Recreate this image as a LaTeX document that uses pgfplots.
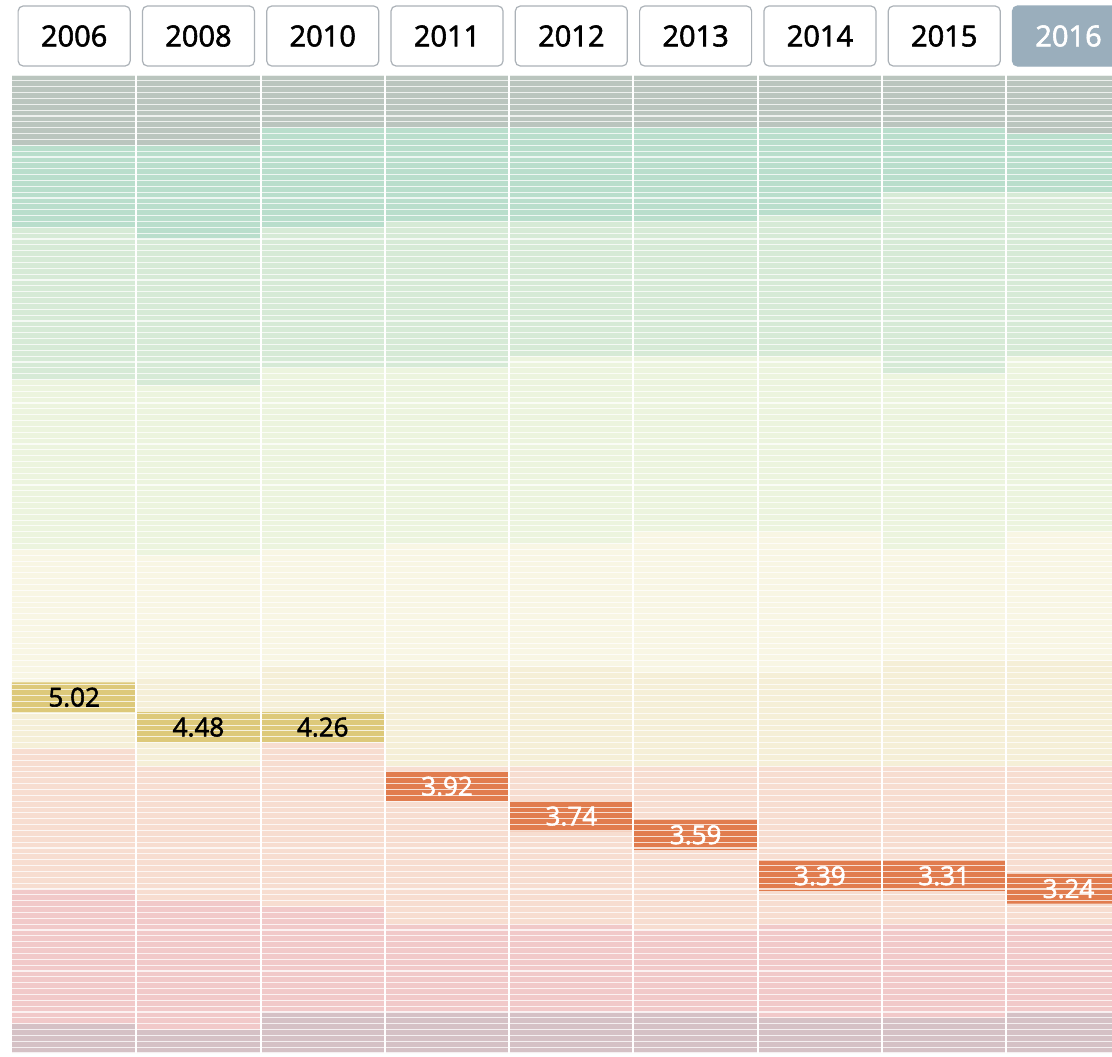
\documentclass[border=0pt]{standalone}
\usepackage{fontspec}
\setmainfont{Open Sans}
\newfontfamily\semi{Open Sans}[FakeBold=2]
\usepackage{pgfplots}
\pgfplotsset{compat=1.18}

\definecolor{bGrey}{RGB}{186,197,190}
\definecolor{bDark}{RGB}{185,222,204}
\definecolor{bLight}{RGB}{214,234,214}
\definecolor{bPale}{RGB}{236,244,222}
\definecolor{bCream}{RGB}{248,246,228}
\definecolor{bBeige}{RGB}{245,239,215}
\definecolor{bPeach}{RGB}{247,221,208}
\definecolor{bPink}{RGB}{241,201,201}
\definecolor{bMauve}{RGB}{213,193,197}
\definecolor{hYellow}{RGB}{221,201,122}
\definecolor{hOrange}{RGB}{225,124,78}
\definecolor{btnEdge}{RGB}{172,178,184}
\definecolor{btnSel}{RGB}{154,174,188}

\pgfplotsset{
  stripes/.style={
    scale only axis, width=550pt, height=489pt,
    at={(6pt,1.5pt)}, anchor=south west,
    xmin=-0.5, xmax=8.35, ymin=0, ymax=167, y dir=reverse,
    axis line style={draw=none}, tick style={draw=none},
    xtick=\empty, ytick=\empty,
    xticklabel={\relax}, yticklabel={\relax},
  },
}
\tikzset{
  band/.style={fill=#1, draw=none},
  btn/.style={draw=btnEdge, fill=white, line width=0.6pt, rounded corners=2.5pt,
    minimum width=56pt, minimum height=30pt, inner sep=0pt, yshift=19.5pt,
    font=\semi\fontsize{14.5}{16}\selectfont},
  val/.style={font=\semi\fontsize{13}{15}\selectfont, inner sep=0pt},
}

\begin{document}
\begin{tikzpicture}
\fill[white] (0,0) rectangle (556pt,528pt);
\path[use as bounding box] (0,0) rectangle (556pt,528pt);

% bands: number of rows (countries) per band in each year
\begin{axis}[stripes, ybar stacked, bar width=1]
  \addplot[band=bGrey]  coordinates {(0,12) (1,12) (2,9)  (3,9)  (4,9)  (5,9)  (6,9)  (7,9)  (8,10)};
  \addplot[band=bDark]  coordinates {(0,14) (1,16) (2,17) (3,16) (4,16) (5,16) (6,15) (7,11) (8,10)};
  \addplot[band=bLight] coordinates {(0,26) (1,25) (2,24) (3,25) (4,23) (5,23) (6,24) (7,31) (8,28)};
  \addplot[band=bPale]  coordinates {(0,29) (1,29) (2,31) (3,30) (4,32) (5,30) (6,30) (7,30) (8,30)};
  \addplot[band=bCream] coordinates {(0,28) (1,21) (2,20) (3,21) (4,21) (5,24) (6,24) (7,19) (8,22)};
  \addplot[band=bBeige] coordinates {(0,6)  (1,15) (2,13) (3,17) (4,17) (5,16) (6,16) (7,18) (8,18)};
  \addplot[band=bPeach] coordinates {(0,24) (1,23) (2,28) (3,27) (4,27) (5,28) (6,27) (7,27) (8,27)};
  \addplot[band=bPink]  coordinates {(0,23) (1,22) (2,18) (3,15) (4,15) (5,14) (6,16) (7,16) (8,15)};
  \addplot[band=bMauve] coordinates {(0,5)  (1,4)  (2,7)  (3,7)  (4,7)  (5,7)  (6,6)  (7,6)  (8,7)};
\end{axis}

% highlighted country and row stripes
\begin{axis}[stripes, ybar stacked, bar width=1, axis on top,
  ytick={0,1,...,167}, ymajorgrids,
  major grid style={white, line width=0.55pt, opacity=0.75}]
  \addplot[draw=none, fill=none] coordinates {(0,103.7) (1,108.8) (2,108.8) (3,118.9) (4,124.0) (5,127.2) (6,134.2) (7,134.2) (8,136.4)};
  \addplot[band=hYellow] coordinates {(0,5.1) (1,5.1) (2,5.1) (3,0) (4,0) (5,0) (6,0) (7,0) (8,0)};
  \addplot[band=hOrange] coordinates {(0,0) (1,0) (2,0) (3,5.1) (4,5.1) (5,5.1) (6,5.1) (7,5.1) (8,5.1)};
\end{axis}

% column separators, year buttons, value labels
\begin{axis}[stripes, clip=false,
  xtick={0.5,1.5,...,7.5}, xmajorgrids,
  major grid style={white, line width=1pt}]
  \node[btn] at (axis cs:0,0) {2006};
  \node[btn] at (axis cs:1,0) {2008};
  \node[btn] at (axis cs:2,0) {2010};
  \node[btn] at (axis cs:3,0) {2011};
  \node[btn] at (axis cs:4,0) {2012};
  \node[btn] at (axis cs:5,0) {2013};
  \node[btn] at (axis cs:6,0) {2014};
  \node[btn] at (axis cs:7,0) {2015};
  \node[btn, fill=btnSel, draw=btnSel, text=white] at (axis cs:8,0) {2016};
  \node[val, text=black] at (axis cs:0,106.25) {5.02};
  \node[val, text=black] at (axis cs:1,111.35) {4.48};
  \node[val, text=black] at (axis cs:2,111.35) {4.26};
  \node[val, text=white] at (axis cs:3,121.45) {3.92};
  \node[val, text=white] at (axis cs:4,126.55) {3.74};
  \node[val, text=white] at (axis cs:5,129.75) {3.59};
  \node[val, text=white] at (axis cs:6,136.75) {3.39};
  \node[val, text=white] at (axis cs:7,136.75) {3.31};
  \node[val, text=white] at (axis cs:8,138.95) {3.24};
\end{axis}
\end{tikzpicture}
\end{document}
